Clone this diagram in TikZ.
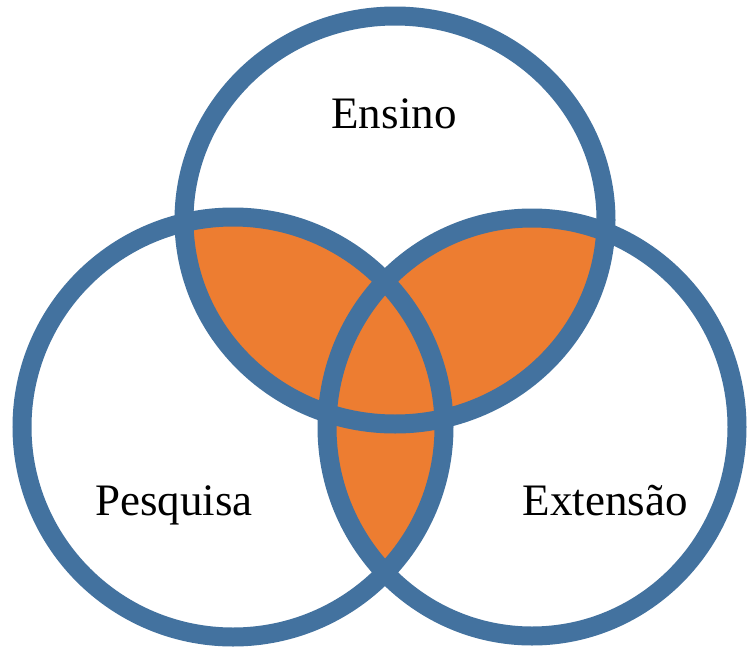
\documentclass[tikz,border=0pt]{standalone}
\usepackage{fontspec}
\setmainfont{Liberation Serif}
\definecolor{ringblue}{RGB}{67,114,159}
\definecolor{lensorange}{RGB}{237,125,49}
\tikzset{
  ring/.style={draw=ringblue, line width=19pt},
  lbl/.style={anchor=base, inner sep=0pt, font=\fontsize{45}{50}\selectfont, text=black}
}
\begin{document}
\begin{tikzpicture}[x=1pt,y=-1pt]
\useasboundingbox (0,0) rectangle (750,648);
\fill[white] (0,0) rectangle (750,648);
\def\topC{(395,220) ellipse [x radius=211pt, y radius=204pt]}
\def\leftC{(233,427) ellipse [x radius=211pt, y radius=210pt]}
\def\rightC{(532,427) ellipse [x radius=205pt, y radius=209pt]}
% pairwise intersections in orange
\begin{scope}
  \clip \topC;
  \fill[lensorange] \leftC;
  \fill[lensorange] \rightC;
\end{scope}
\begin{scope}
  \clip \leftC;
  \fill[lensorange] \rightC;
\end{scope}
% outlines
\draw[ring] \topC;
\draw[ring] \leftC;
\draw[ring] \rightC;
% labels
\node[lbl] (ensino) at (394,128) {Ensino};
\node[lbl] (pesquisa) at (174,515) {Pesquisa};
\node[lbl] (extensao) at (605,515) {Extensão};
\end{tikzpicture}
\end{document}
